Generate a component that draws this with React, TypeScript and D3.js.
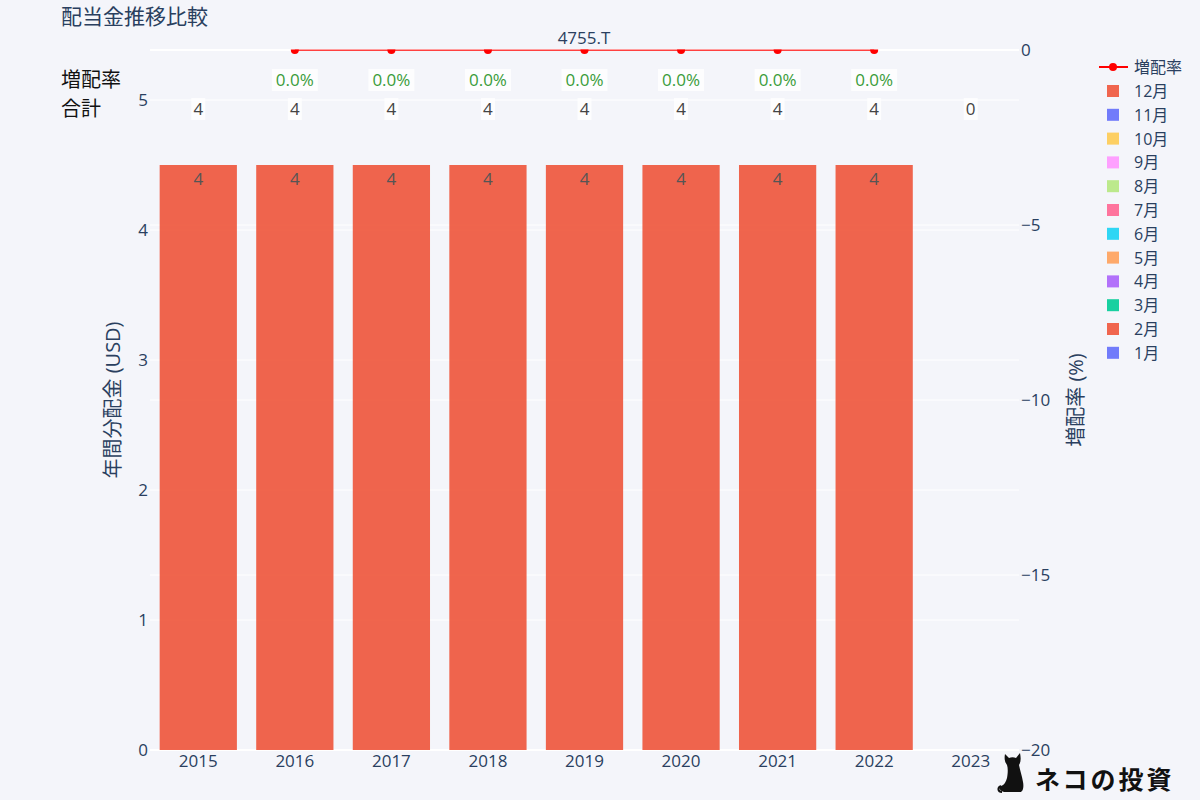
import React from 'react';
import * as d3 from 'd3';

const years = ['2015', '2016', '2017', '2018', '2019', '2020', '2021', '2022', '2023'];
const months = ['1月', '2月', '3月', '4月', '5月', '6月', '7月', '8月', '9月', '10月', '11月', '12月'];
const monthColors = ['#636EFA', '#EF553B', '#00CC96', '#AB63FA', '#FFA15A', '#19D3F3', '#FF6692', '#B6E880', '#FF97FF', '#FECB52', '#636EFA', '#EF553B'];
// dividend per month per year (only December paid)
const decDividends = [4.5, 4.5, 4.5, 4.5, 4.5, 4.5, 4.5, 4.5, 0];
const totals = [4, 4, 4, 4, 4, 4, 4, 4, 0];
const rateYears = ['2016', '2017', '2018', '2019', '2020', '2021', '2022'];
const rates = [0, 0, 0, 0, 0, 0, 0];
const leftTicks = [0, 1, 2, 3, 4, 5];
const rightTicks = [0, -5, -10, -15, -20];

const FONT = '"Open Sans", "Noto Sans CJK JP", sans-serif';
const TXT = '#2a3f5f';
const BG = '#f4f5fa';

export default function App() {
  const W = 1200, H = 800;
  const x0 = 150, x1 = 1019, yTop = 50, yBot = 750;
  const x = d3.scaleBand<string>().domain(years).range([x0, x1]).padding(0);
  const barW = x.bandwidth() * 0.8;
  const cx = (y: string) => (x(y) as number) + x.bandwidth() / 2;
  const yL = d3.scaleLinear().domain([0, 5]).range([yBot, 100]);
  const yR = d3.scaleLinear().domain([-20, 0]).range([yBot, yTop]);

  const stackData = years.map((yr, i) => {
    const o: any = { year: yr };
    months.forEach((m) => (o[m] = m === '12月' ? decDividends[i] : 0));
    return o;
  });
  const stacked = d3.stack<any>().keys(months)(stackData);

  const line = d3.line<number>().x((_, i) => cx(rateYears[i])).y((d) => yR(d));

  return (
    <svg width={W} height={H} style={{ display: 'block', position: 'absolute', left: 0, top: 0, background: BG }} fontFamily={FONT}>
      <rect x={0} y={0} width={W} height={H} fill={BG} />
      <defs>
        <clipPath id="plotclip">
          <rect x={x0} y={yTop - 0.5} width={x1 - x0} height={yBot - yTop + 1} />
        </clipPath>
      </defs>
      {/* grid lines left */}
      {leftTicks.map((t) => (
        <line key={'gl' + t} x1={x0} x2={x1} y1={yL(t)} y2={yL(t)} stroke="#fff" strokeWidth={t === 0 ? 2 : 1} />
      ))}
      {/* grid lines right */}
      {rightTicks.map((t) => (
        <line key={'gr' + t} x1={x0} x2={x1} y1={yR(t)} y2={yR(t)} stroke="#fff" strokeWidth={t === 0 ? 2 : 1} />
      ))}
      {/* bars */}
      {stacked.map((s, si) => (
        <g key={'s' + si} fill={monthColors[si]} opacity={0.9}>
          {s.map((d, i) =>
            d[1] - d[0] > 0 ? (
              <rect key={i} x={cx(years[i]) - barW / 2} y={yL(d[1])} width={barW} height={yL(d[0]) - yL(d[1])} />
            ) : null
          )}
        </g>
      ))}
      {/* bar inside text */}
      {years.map((yr, i) =>
        decDividends[i] > 0 ? (
          <text key={'bt' + yr} x={cx(yr)} y={yL(decDividends[i]) + 20} textAnchor="middle" fontSize={17} fill="#555">
            {totals[i]}
          </text>
        ) : null
      )}
      {/* rate line */}
      <g clipPath="url(#plotclip)">
        <path d={line(rates) || ''} fill="none" stroke="#FF0000" strokeWidth={1.5} />
        {rates.map((r, i) => (
          <circle key={'m' + i} cx={cx(rateYears[i])} cy={yR(r)} r={4} fill="#FF0000" />
        ))}
      </g>
      {/* rate labels */}
      {rateYears.map((yr, i) => (
        <g key={'rl' + yr}>
          <rect x={cx(yr) - 23} y={69} width={46} height={22} fill="#fff" opacity={0.8} />
          <text x={cx(yr)} y={86} textAnchor="middle" fontSize={17} fill="#3a9c3a">
            {rates[i].toFixed(1) + '%'}
          </text>
        </g>
      ))}
      {/* totals */}
      {years.map((yr, i) => (
        <g key={'tl' + yr}>
          <rect x={cx(yr) - 7} y={98} width={14} height={22} fill="#fff" opacity={0.8} />
          <text x={cx(yr)} y={115} textAnchor="middle" fontSize={17} fill="#444">
            {totals[i]}
          </text>
        </g>
      ))}
      {/* left ticks */}
      {leftTicks.map((t) => (
        <text key={'lt' + t} x={148} y={yL(t) + 6} textAnchor="end" fontSize={17} fill={TXT}>
          {t}
        </text>
      ))}
      {/* right ticks */}
      {rightTicks.map((t) => (
        <text key={'rt' + t} x={1021} y={yR(t) + 6} textAnchor="start" fontSize={17} fill={TXT}>
          {t === 0 ? '0' : '\u2212' + Math.abs(t)}
        </text>
      ))}
      {/* x ticks */}
      {years.map((yr) => (
        <text key={'xt' + yr} x={cx(yr)} y={767} textAnchor="middle" fontSize={17} fill={TXT}>
          {yr}
        </text>
      ))}
      {/* axis titles */}
      <text transform="translate(120,400) rotate(-90)" textAnchor="middle" fontSize={20} fill={TXT}>
        年間分配金 (USD)
      </text>
      <text transform="translate(1083,400) rotate(-90)" textAnchor="middle" fontSize={20} fill={TXT}>
        増配率 (%)
      </text>
      {/* titles */}
      <text x={61} y={24} fontSize={21} fill={TXT}>配当金推移比較</text>
      <text x={584} y={44} textAnchor="middle" fontSize={17} fill={TXT}>4755.T</text>
      <text x={61} y={87} fontSize={20} fill="#111">増配率</text>
      <text x={61} y={116} fontSize={20} fill="#111">合計</text>
      {/* legend */}
      <g fontSize={16} fill={TXT}>
        <line x1={1099} x2={1128} y1={67} y2={67} stroke="#FF0000" strokeWidth={2} />
        <circle cx={1113} cy={67} r={4} fill="#FF0000" />
        <text x={1134} y={73}>増配率</text>
        {months.slice().reverse().map((m, i) => {
          const idx = months.length - 1 - i;
          const yy = 91 + i * 23.8;
          return (
            <g key={'lg' + m}>
              <rect x={1107} y={yy - 6} width={12} height={12} fill={monthColors[idx]} opacity={0.9} />
              <text x={1134} y={yy + 6}>{m}</text>
            </g>
          );
        })}
      </g>
      {/* logo */}
      <g transform="translate(998,752)" fill="#111">
        <path d="M8 40 C2 40 0 36 3 34 C6 33 8 30 9 26 C10 20 10 16 9 13 C7 10 6 7 7 2 L11 6 C13 5 16 5 18 6 L22 1 C23 6 23 10 21 13 C22 18 24 24 25 30 C26 35 25 40 22 40 Z" />
        <path d="M3 34 C-1 36 0 40 4 40" stroke="#111" strokeWidth={2} fill="none" />
      </g>
      <text x={1035} y={789} fontSize={25} fontWeight={700} fill="#111" fontFamily='"Noto Sans CJK JP", sans-serif' letterSpacing={3}>
        ネコの投資
      </text>
    </svg>
  );
}
